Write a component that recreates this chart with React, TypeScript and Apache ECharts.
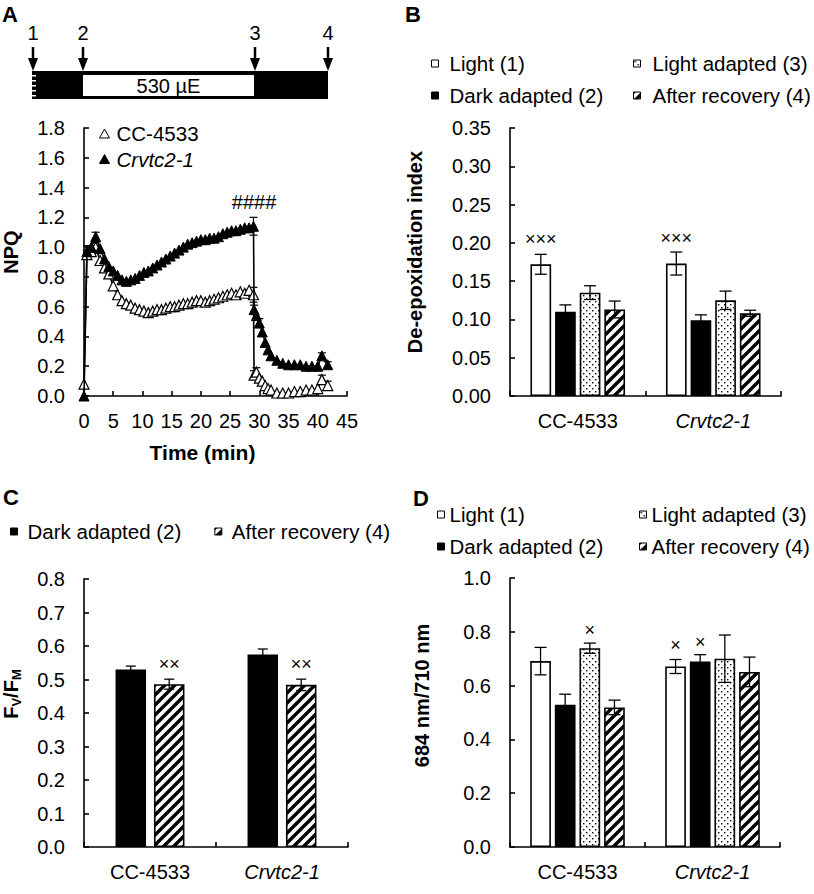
import React, { useEffect, useRef } from 'react';
import * as echarts from 'echarts';

const FONT = '"Liberation Sans", Arial, Helvetica, sans-serif';

// ---------- Panel A : NPQ time course ----------
const darkTime = [0];
const ccDark = [0.08];
const crDark = [0.0];
const lightTimes = [0.5, 1.25, 2, 2.75, 3.5, 4.25, 5, 5.75, 6.5, 7.25, 8, 8.75, 9.5, 10.25, 11, 11.75, 12.5, 13.25, 14, 14.75, 15.5, 16.25, 17, 17.75, 18.5, 19.25, 20, 20.75, 21.5, 22.25, 23, 23.75, 24.5, 25.25, 26, 26.75, 27.5, 28.25, 29];
const ccLight = [0.95, 0.97, 1.0, 0.91, 0.86, 0.82, 0.74, 0.68, 0.64, 0.62, 0.61, 0.59, 0.58, 0.57, 0.56, 0.57, 0.58, 0.58, 0.59, 0.6, 0.6, 0.61, 0.62, 0.62, 0.63, 0.64, 0.64, 0.63, 0.64, 0.65, 0.66, 0.67, 0.68, 0.69, 0.68, 0.7, 0.69, 0.71, 0.68];
const crLight = [0.97, 1.0, 1.07, 0.99, 0.92, 0.87, 0.84, 0.81, 0.78, 0.77, 0.78, 0.79, 0.81, 0.83, 0.84, 0.86, 0.88, 0.9, 0.92, 0.94, 0.96, 0.98, 1.0, 1.02, 1.03, 1.04, 1.05, 1.05, 1.06, 1.06, 1.07, 1.09, 1.1, 1.11, 1.11, 1.12, 1.13, 1.13, 1.14];
const recTimes = [29.1, 29.5, 30, 30.5, 31, 31.5, 32, 33, 34, 35, 36, 37, 38, 39, 40, 40.7, 41.7];
const ccRec = [0.14, 0.16, 0.12, 0.1, 0.07, 0.05, 0.04, 0.02, 0.02, 0.02, 0.03, 0.03, 0.04, 0.04, 0.05, 0.11, 0.07];
const crRec = [0.58, 0.54, 0.49, 0.43, 0.36, 0.31, 0.27, 0.24, 0.22, 0.21, 0.21, 0.21, 0.2, 0.2, 0.2, 0.27, 0.21];
const ccErrTimes = [0.5, 2, 29, 29.1, 29.5, 40.7, 41.7];
const ccErrSE = [0.03, 0.03, 0.05, 0.03, 0.03, 0.03, 0.03];
const crErrTimes = [0.5, 2, 29, 29.1, 30, 40.7, 41.7];
const crErrSE = [0.04, 0.03, 0.06, 0.03, 0.03, 0.02, 0.02];
const hashMark = { time: 29.1, value: 1.3, text: '####' };

// ---------- Panels B, C, D ----------
const strains = ['CC-4533', 'Crvtc2-1'];
const stateNames = ['Light (1)', 'Dark adapted (2)', 'Light adapted (3)', 'After recovery (4)'];

// B: de-epoxidation index
const bLight = [0.172, 0.173];
const bLightSE = [0.013, 0.015];
const bDark = [0.11, 0.099];
const bDarkSE = [0.009, 0.007];
const bLightAd = [0.135, 0.125];
const bLightAdSE = [0.009, 0.012];
const bRecov = [0.113, 0.108];
const bRecovSE = [0.011, 0.004];
const bMarks = [['×××', '×××'], ['', ''], ['', ''], ['', '']];
const bMarkY = [[0.205, 0.206], [0, 0], [0, 0], [0, 0]];

// C: Fv/Fm
const cDark = [0.53, 0.575];
const cDarkSE = [0.01, 0.016];
const cRecov = [0.486, 0.484];
const cRecovSE = [0.015, 0.017];
const cMarks = [['', ''], ['××', '××']];
const cMarkY = [[0, 0], [0.546, 0.546]];

// D: 684/710 nm
const dLight = [0.691, 0.671];
const dLightSE = [0.051, 0.026];
const dDark = [0.529, 0.69];
const dDarkSE = [0.039, 0.025];
const dLightAd = [0.739, 0.7];
const dLightAdSE = [0.019, 0.088];
const dRecov = [0.519, 0.651];
const dRecovSE = [0.027, 0.055];
const dMarks = [['', '×'], ['', '×'], ['×', ''], ['', '']];
const dMarkY = [[0, 0.751], [0, 0.763], [0.807, 0], [0, 0]];

function makeDots() {
  const s = 6;
  const c = document.createElement('canvas');
  c.width = s; c.height = s;
  const ctx = c.getContext('2d')!;
  ctx.fillStyle = '#fff'; ctx.fillRect(0, 0, s, s);
  ctx.fillStyle = '#000';
  ctx.fillRect(1, 1, 1.4, 1.4);
  ctx.fillRect(4, 4, 1.4, 1.4);
  return { image: c.toDataURL(), imageWidth: s, imageHeight: s, repeat: 'repeat' };
}
function makeHatch() {
  const s = 10;
  const c = document.createElement('canvas');
  c.width = s; c.height = s;
  const ctx = c.getContext('2d')!;
  ctx.fillStyle = '#fff'; ctx.fillRect(0, 0, s, s);
  ctx.strokeStyle = '#000'; ctx.lineWidth = 3.4;
  ctx.beginPath();
  ctx.moveTo(-1, s + 1); ctx.lineTo(s + 1, -1);
  ctx.moveTo(-s / 2 - 1, s / 2 + 1); ctx.lineTo(s / 2 + 1, -s / 2 - 1);
  ctx.moveTo(s / 2 - 1, s * 1.5 + 1); ctx.lineTo(s * 1.5 + 1, s / 2 - 1);
  ctx.stroke();
  return { image: c.toDataURL(), imageWidth: s, imageHeight: s, repeat: 'repeat' };
}

const tickFont = { fontSize: 20, fontFamily: FONT, color: '#000' };
const axLine = { show: true, lineStyle: { color: '#000', width: 1.6 } };
const axTick = { show: true, inside: true, length: 5, lineStyle: { color: '#000', width: 1.6 } };

function valueY(gi: number, min: number, max: number, interval: number, dec: number, name: string, nameGap: number, shift: number, rich?: any) {
  return {
    type: 'value', gridIndex: gi, min, max, interval,
    axisLine: axLine, axisTick: axTick, splitLine: { show: false },
    axisLabel: { ...tickFont, margin: 19, formatter: (v: number) => v.toFixed(dec) },
    name, nameLocation: 'middle', nameRotate: 90, nameGap,
    nameTextStyle: { fontSize: 20, fontWeight: 'bold', fontFamily: FONT, color: '#000', padding: [0, 0, 0, shift * 2], rich },
  };
}
function catX(gi: number) {
  return {
    type: 'category', gridIndex: gi, data: strains,
    axisLine: axLine, axisTick: axTick, splitLine: { show: false },
    axisLabel: {
      ...tickFont, margin: 15, interval: 0, hideOverlap: false,
      formatter: (v: string) => (v === 'Crvtc2-1' ? `{it|${v}}` : v),
      rich: { it: { fontStyle: 'italic', fontSize: 20, fontFamily: FONT, color: '#000' } },
    },
  };
}

function errBarSeries(gi: number, nBars: number, barW: number, gapRatio: number, capW: number, means: number[][], ses: number[][], marks: string[][], markY: number[][]) {
  const items: any[] = [];
  means.forEach((arr, k) => arr.forEach((m, ci) => {
    items.push({ ci, k, mean: m, se: ses[k][ci], mark: marks[k][ci], my: markY[k][ci] });
  }));
  return {
    type: 'custom', xAxisIndex: gi, yAxisIndex: gi, z: 10, silent: true,
    data: items.map((it) => [it.ci, it.mean, it.se, it.k, it.my]),
    renderItem: (params: any, api: any) => {
      const it = items[params.dataIndex];
      const step = barW * (1 + gapRatio);
      const off = (it.k - (nBars - 1) / 2) * step;
      const c = api.coord([it.ci, it.mean]);
      const hi = api.coord([it.ci, it.mean + it.se]);
      const lo = api.coord([it.ci, it.mean - it.se]);
      const x = c[0] + off;
      const st = { stroke: '#000', lineWidth: 1.3 };
      const children: any[] = [
        { type: 'line', shape: { x1: x, y1: hi[1], x2: x, y2: lo[1] }, style: st },
        { type: 'line', shape: { x1: x - capW / 2, y1: hi[1], x2: x + capW / 2, y2: hi[1] }, style: st },
        { type: 'line', shape: { x1: x - capW / 2, y1: lo[1], x2: x + capW / 2, y2: lo[1] }, style: st },
      ];
      if (it.mark) {
        const m = api.coord([it.ci, it.my]);
        children.push({ type: 'text', x, y: m[1], style: { text: it.mark, fill: '#000', fontSize: 18, fontFamily: FONT, align: 'center', verticalAlign: 'middle' } });
      }
      return { type: 'group', children };
    },
  };
}

function lineErrSeries(times: number[], ses: number[], allT: number[], allV: number[]) {
  const data = times.map((t, i) => [t, allV[allT.indexOf(t)], ses[i]]);
  return {
    type: 'custom', xAxisIndex: 0, yAxisIndex: 0, z: 2, silent: true, data,
    renderItem: (params: any, api: any) => {
      const [t, m, se] = data[params.dataIndex];
      const hi = api.coord([t, m + se]);
      const lo = api.coord([t, m - se]);
      const st = { stroke: '#000', lineWidth: 1.2 };
      return {
        type: 'group', children: [
          { type: 'line', shape: { x1: hi[0], y1: hi[1], x2: lo[0], y2: lo[1] }, style: st },
          { type: 'line', shape: { x1: hi[0] - 4, y1: hi[1], x2: hi[0] + 4, y2: hi[1] }, style: st },
          { type: 'line', shape: { x1: lo[0] - 4, y1: lo[1], x2: lo[0] + 4, y2: lo[1] }, style: st },
        ],
      };
    },
  };
}

function buildOption() {
  const dots = makeDots();
  const hatch = makeHatch();
  const fills = ['#fff', '#000', dots, hatch];

  const ccT = [...darkTime, ...lightTimes, ...recTimes];
  const ccV = [...ccDark, ...ccLight, ...ccRec];
  const crT = [...darkTime, ...lightTimes, ...recTimes];
  const crV = [...crDark, ...crLight, ...crRec];

  const bMeans = [bLight, bDark, bLightAd, bRecov];
  const bSE = [bLightSE, bDarkSE, bLightAdSE, bRecovSE];
  const dMeans = [dLight, dDark, dLightAd, dRecov];
  const dSE = [dLightSE, dDarkSE, dLightAdSE, dRecovSE];
  const cMeans = [cDark, cRecov];
  const cSE = [cDarkSE, cRecovSE];

  const barSeries = (gi: number, names: string[], means: number[][], fillIdx: number[], barW: number, gap: number) =>
    means.map((vals, k) => ({
      type: 'bar', name: names[k], xAxisIndex: gi, yAxisIndex: gi, data: vals,
      barWidth: barW, barGap: `${gap * 100}%`,
      itemStyle: { color: fills[fillIdx[k]], borderColor: '#000', borderWidth: 1.6 },
    }));

  const legendBase: any = {
    orient: 'vertical', icon: 'rect', itemWidth: 7, itemHeight: 7, itemGap: 11, selectedMode: false,
    textStyle: { fontSize: 20.5, fontFamily: FONT, color: '#000', padding: [0, 0, 0, 0] },
    itemStyle: { borderColor: '#000', borderWidth: 1 },
  };
  const pad = (p: number) => ({ ...legendBase.textStyle, padding: [0, 0, 0, p] });

  const arrowXs = [33, 83, 255, 328];
  const arrowLabels = ['1', '2', '3', '4'];
  const graphicEls: any[] = [
    { type: 'text', x: 2, y: 3, style: { text: 'A', fill: '#000', font: `bold 22px ${FONT}` } },
    { type: 'text', x: 405, y: 3, style: { text: 'B', fill: '#000', font: `bold 22px ${FONT}` } },
    { type: 'text', x: 3, y: 486, style: { text: 'C', fill: '#000', font: `bold 22px ${FONT}` } },
    { type: 'text', x: 413, y: 487, style: { text: 'D', fill: '#000', font: `bold 22px ${FONT}` } },
    { type: 'rect', shape: { x: 32, y: 71, width: 296, height: 28 }, style: { fill: '#000' } },
    { type: 'rect', shape: { x: 83, y: 75, width: 171, height: 21 }, style: { fill: '#fff' } },
    { type: 'text', x: 168.5, y: 86, style: { text: '530 µE', fill: '#000', font: `20px ${FONT}`, align: 'center', verticalAlign: 'middle' } },
  ];
  [75, 80, 85, 90, 95].forEach((y) => graphicEls.push({ type: 'rect', shape: { x: 32, y, width: 4, height: 1.5 }, style: { fill: '#fff' } }));
  arrowXs.forEach((x, i) => {
    graphicEls.push({ type: 'text', x, y: 33, style: { text: arrowLabels[i], fill: '#000', font: `20px ${FONT}`, align: 'center', verticalAlign: 'middle' } });
    graphicEls.push({ type: 'line', shape: { x1: x, y1: 47, x2: x, y2: 62 }, style: { stroke: '#000', lineWidth: 2.5 } });
    graphicEls.push({ type: 'polygon', shape: { points: [[x - 5, 58], [x + 5, 58], [x, 71]] }, style: { fill: '#000' } });
  });

  return {
    animation: false,
    backgroundColor: '#fff',
    textStyle: { fontFamily: FONT },
    grid: [
      { left: 81, top: 128, width: 266, height: 268 },
      { left: 510, top: 128, width: 271, height: 268 },
      { left: 81, top: 579, width: 267, height: 268 },
      { left: 510, top: 578, width: 270, height: 269 },
    ],
    xAxis: [
      {
        type: 'value', gridIndex: 0, min: 0, max: 45, interval: 5,
        axisLine: axLine, axisTick: axTick, splitLine: { show: false },
        axisLabel: { ...tickFont, margin: 15 },
        name: 'Time (min)', nameLocation: 'middle', nameGap: 46,
        nameTextStyle: { fontSize: 21, fontWeight: 'bold', fontFamily: FONT, color: '#000', padding: [0, 26, 0, 0] },
      },
      catX(1), catX(2), catX(3),
    ],
    yAxis: [
      valueY(0, 0, 1.8, 0.2, 1, 'NPQ', 63, 10),
      valueY(1, 0, 0.35, 0.05, 2, 'De-epoxidation index', 85, 10),
      valueY(2, 0, 0.8, 0.1, 1, '{b|F}{s|V}{b|/F}{s|M}', 61, 19, {
        b: { fontSize: 20, fontWeight: 'bold', fontFamily: FONT, color: '#000', verticalAlign: 'top', lineHeight: 22 },
        s: { fontSize: 13, fontWeight: 'bold', fontFamily: FONT, color: '#000', verticalAlign: 'bottom', lineHeight: 13 },
      }),
      valueY(3, 0, 1.0, 0.2, 1, '684 nm/710 nm', 78, 17),
    ],
    legend: [
      {
        ...legendBase, icon: 'triangle', itemWidth: 10, itemHeight: 9, itemGap: 5, left: 94, top: 118,
        textStyle: pad(2),
        data: [{ name: 'CC-4533' }, { name: 'Crvtc2-1', textStyle: { fontStyle: 'italic' } }],
      },
      { ...legendBase, left: 426, top: 48, textStyle: pad(6), data: [stateNames[0], stateNames[1]] },
      { ...legendBase, left: 628, top: 48, textStyle: pad(7), data: [stateNames[2], stateNames[3]] },
      { ...legendBase, orient: 'horizontal', left: 5, top: 516, itemGap: 33, textStyle: pad(5), data: [stateNames[1], stateNames[3]] },
      { ...legendBase, left: 432, top: 499, data: [stateNames[0], stateNames[1]] },
      { ...legendBase, left: 634, top: 499, data: [stateNames[2], stateNames[3]] },
    ],
    graphic: { elements: graphicEls },
    series: [
      lineErrSeries(ccErrTimes, ccErrSE, ccT, ccV),
      lineErrSeries(crErrTimes, crErrSE, crT, crV),
      {
        type: 'line', name: 'CC-4533', xAxisIndex: 0, yAxisIndex: 0, z: 3,
        data: ccT.map((t, i) => [t, ccV[i]]),
        symbol: 'triangle', symbolSize: 10, showAllSymbol: true,
        itemStyle: { color: '#fff', borderColor: '#000', borderWidth: 1.2 },
        lineStyle: { color: '#000', width: 1.6 },
      },
      {
        type: 'line', name: 'Crvtc2-1', xAxisIndex: 0, yAxisIndex: 0, z: 4,
        data: crT.map((t, i) => [t, crV[i]]),
        symbol: 'triangle', symbolSize: 10, showAllSymbol: true,
        itemStyle: { color: '#000', borderColor: '#000', borderWidth: 1 },
        lineStyle: { color: '#000', width: 1.6 },
      },
      {
        type: 'custom', xAxisIndex: 0, yAxisIndex: 0, z: 5, silent: true,
        data: [[hashMark.time, hashMark.value]],
        renderItem: (params: any, api: any) => {
          const p = api.coord([api.value(0), api.value(1)]);
          return { type: 'text', x: p[0], y: p[1], style: { text: hashMark.text, fill: '#000', fontSize: 20, fontFamily: FONT, align: 'center', verticalAlign: 'middle' } };
        },
      },
      ...barSeries(1, stateNames, bMeans, [0, 1, 2, 3], 20.7, 0.19),
      errBarSeries(1, 4, 20.7, 0.19, 12, bMeans, bSE, bMarks, bMarkY),
      ...barSeries(2, [stateNames[1], stateNames[3]], cMeans, [1, 3], 30.5, 0.26),
      errBarSeries(2, 2, 30.5, 0.26, 10, cMeans, cSE, cMarks, cMarkY),
      ...barSeries(3, stateNames, dMeans, [0, 1, 2, 3], 20.7, 0.19),
      errBarSeries(3, 4, 20.7, 0.19, 12, dMeans, dSE, dMarks, dMarkY),
    ],
  };
}

export default function App() {
  const ref = useRef<HTMLDivElement>(null);
  useEffect(() => {
    const chart = echarts.init(ref.current!, null, { renderer: 'svg' });
    chart.setOption(buildOption() as any);
    return () => chart.dispose();
  }, []);
  return <div ref={ref} style={{ position: 'fixed', left: 0, top: 0, width: 814, height: 894, background: '#fff' }} />;
}
